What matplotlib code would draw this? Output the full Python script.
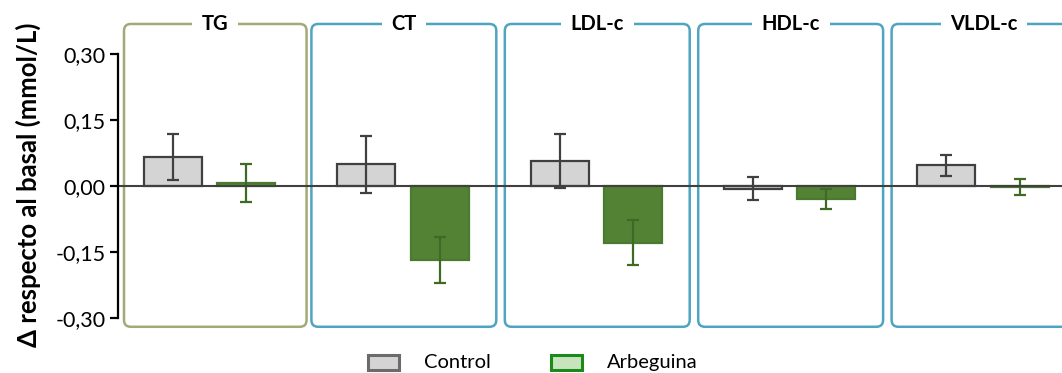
import numpy as np
import matplotlib.pyplot as plt
from matplotlib.patches import FancyBboxPatch, Rectangle

# data
markers = ["TG", "CT", "LDL-c", "HDL-c", "VLDL-c"]
control_mean = [0.065, 0.049, 0.056, -0.006, 0.047]
control_err = [0.052, 0.064, 0.061, 0.027, 0.024]
arbequina_mean = [0.006, -0.168, -0.129, -0.029, -0.003]
arbequina_err = [0.043, 0.052, 0.051, 0.023, 0.018]
yticks = [-0.30, -0.15, 0.00, 0.15, 0.30]
ytick_labels = ["-0,30", "-0,15", "0,00", "0,15", "0,30"]

plt.rcParams["font.family"] = ["Lato", "DejaVu Sans"]

fig = plt.figure(figsize=(10.62, 3.73), dpi=100)
ax = fig.add_axes([118 / 1062, 0.118, (1062 - 118) / 1062, 0.826])

x = np.arange(len(markers))
offset = 0.19
width = 0.30

ax.bar(x - offset, control_mean, width, color="#d4d4d4", edgecolor="#404040",
       linewidth=1.6, zorder=3)
ax.bar(x + offset, arbequina_mean, width, color="#548235", edgecolor="#4a7a30",
       linewidth=1.6, zorder=3)
ax.errorbar(x - offset, control_mean, yerr=control_err, fmt="none",
            ecolor="#404040", elinewidth=1.6, capsize=4.5, capthick=1.6, zorder=4)
ax.errorbar(x + offset, arbequina_mean, yerr=arbequina_err, fmt="none",
            ecolor="#3f6a25", elinewidth=1.6, capsize=4.5, capthick=1.6, zorder=4)

ax.axhline(0, color="#404040", linewidth=1.5, zorder=5)

# panel frames with the title sitting in a gap on the top edge
box_top = 0.368
box_bottom = -0.320
for i, name in enumerate(markers):
    edge = "#a3a977" if i == 0 else "#4fa5c0"
    shift = 0.03 if i == 0 else 0.005
    half = 0.472 if i == 0 else 0.478
    box = FancyBboxPatch((i - half + shift, box_bottom), 2 * half, box_top - box_bottom,
                         boxstyle="round,pad=0,rounding_size=0.035",
                         mutation_aspect=0.44, facecolor="none", edgecolor=edge,
                         linewidth=1.8, clip_on=False, zorder=1)
    ax.add_patch(box)
    ax.text(i + shift, box_top, name, ha="center", va="center", fontsize=14.5,
            fontweight="bold", zorder=6, clip_on=False,
            bbox=dict(facecolor="white", edgecolor="none", pad=7))

ax.set_xlim(-0.473, 4.408)
ax.set_ylim(-0.325, 0.375)
ax.set_yticks(yticks)
ax.set_yticklabels(ytick_labels, fontsize=15.5)
ax.set_xticks([])
for side in ["top", "right", "bottom"]:
    ax.spines[side].set_visible(False)
ax.spines["left"].set_bounds(-0.30, 0.30)
ax.spines["left"].set_linewidth(1.6)
ax.spines["left"].set_zorder(6)
ax.tick_params(axis="y", length=6, width=1.6, pad=3)
ax.set_ylabel("Δ respecto al basal (mmol/L)", fontsize=18.5, fontweight="bold")
ax.yaxis.set_label_coords(-0.082, 0.467)

# legend along the bottom edge
fig.patches.append(Rectangle((368 / 1062, 3 / 373), 31 / 1062, 15 / 373,
                             transform=fig.transFigure, facecolor="#d4d4d4",
                             edgecolor="#6b6b6b", linewidth=2.2))
fig.text(424 / 1062, 2 / 373, "Control", fontsize=14.5, va="bottom")
fig.patches.append(Rectangle((551 / 1062, 3 / 373), 31 / 1062, 15 / 373,
                             transform=fig.transFigure, facecolor="#c8e4bc",
                             edgecolor="#1a8a1a", linewidth=2.2))
fig.text(607 / 1062, 2 / 373, "Arbeguina", fontsize=14.5, va="bottom")

fig.savefig("out.png", dpi=100)
